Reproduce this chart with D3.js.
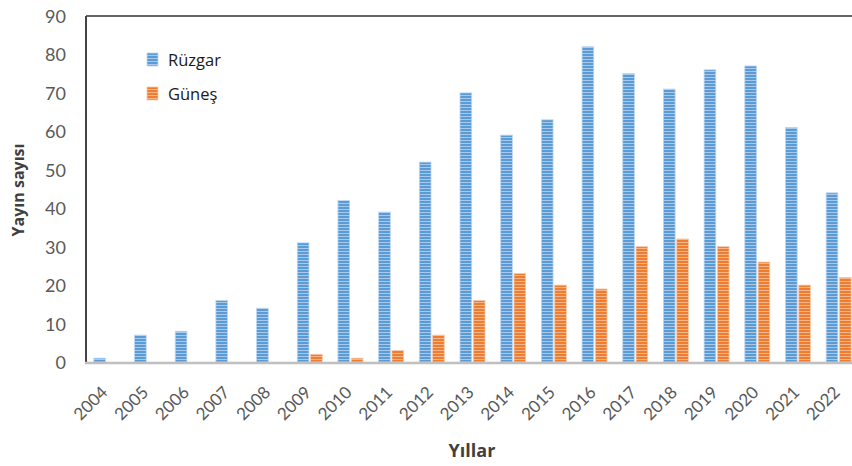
<!DOCTYPE html>
<html>
<head>
<meta charset="utf-8">
<script src="https://cdn.jsdelivr.net/npm/d3@7"></script>
<style>
  html, body { margin: 0; padding: 0; background: #fff; }
  svg { display: block; }
</style>
</head>
<body>
<svg id="chart" width="852" height="466"></svg>
<script>
// Yearly publication counts: wind (Rüzgar) and solar (Güneş)
const years = ["2004","2005","2006","2007","2008","2009","2010","2011","2012","2013",
               "2014","2015","2016","2017","2018","2019","2020","2021","2022"];
const ruzgar = [1, 7, 8, 16, 14, 31, 42, 39, 52, 70, 59, 63, 82, 75, 71, 76, 77, 61, 44];
const gunes  = [0, 0, 0, 0, 0, 2, 1, 3, 7, 16, 23, 20, 19, 30, 32, 30, 26, 20, 22];
const seriesNames = ["Rüzgar", "Güneş"];
const yTicks = [0, 10, 20, 30, 40, 50, 60, 70, 80, 90];

const svg = d3.select("#chart");
const font = "Lato, 'Open Sans', sans-serif";
const textFont = "'Open Sans', Lato, sans-serif";
const margin = { left: 86, top: 16, right: -7, bottom: 104 };
const W = 852, H = 466;
const x0 = margin.left, x1 = W - margin.right;
const yTop = margin.top, yBot = H - margin.bottom;

const x = d3.scaleBand().domain(years).range([x0, x1]).paddingInner(0).paddingOuter(0);
const xs = d3.scaleBand().domain(seriesNames).range([x.bandwidth() / 2 - 12.5, x.bandwidth() / 2 + 12.5]).paddingInner(0.12);
const y = d3.scaleLinear().domain([0, 90]).range([yBot, yTop]);

// Horizontal stripe fills
const defs = svg.append("defs");
function stripes(id, base, light) {
  const p = defs.append("pattern").attr("id", id)
    .attr("patternUnits", "userSpaceOnUse").attr("width", 6).attr("height", 3);
  p.append("rect").attr("width", 6).attr("height", 3).attr("fill", base);
  p.append("rect").attr("y", 2).attr("width", 6).attr("height", 1).attr("fill", light);
}
stripes("stripeBlue", "#5b9bd5", "#a9c9ec");
stripes("stripeOrange", "#ed7d31", "#f6b48a");
const fills = { "Rüzgar": "url(#stripeBlue)", "Güneş": "url(#stripeOrange)" };
const edges = { "Rüzgar": "#bcd6f1", "Güneş": "#f8c9a8" };

const rows = years.map((yr, i) => ({ year: yr, values: [
  { key: "Rüzgar", v: ruzgar[i] }, { key: "Güneş", v: gunes[i] } ] }));

// Bars
const g = svg.append("g");
g.selectAll("g.yr").data(rows).join("g").attr("class", "yr")
  .attr("transform", d => `translate(${x(d.year)},0)`)
  .selectAll("rect").data(d => d.values.filter(e => e.v > 0)).join("rect")
  .attr("x", d => xs(d.key))
  .attr("width", xs.bandwidth())
  .attr("y", d => y(d.v))
  .attr("height", d => yBot - y(d.v))
  .attr("fill", d => fills[d.key])
  .attr("stroke", d => edges[d.key])
  .attr("stroke-width", 0.8);

// Frame lines: top and left dark, baseline gray
svg.append("line").attr("x1", x0).attr("x2", W).attr("y1", yTop).attr("y2", yTop)
  .attr("stroke", "#333").attr("stroke-width", 1.5);
svg.append("line").attr("x1", x0).attr("x2", x0).attr("y1", yTop).attr("y2", yBot + 1)
  .attr("stroke", "#444").attr("stroke-width", 2);
svg.append("line").attr("x1", x0 - 1).attr("x2", W).attr("y1", yBot + 1).attr("y2", yBot + 1)
  .attr("stroke", "#bfbfbf").attr("stroke-width", 2.5);

// Y axis labels
const yAxis = d3.axisLeft(y).tickValues(yTicks).tickSize(0).tickPadding(0).tickFormat(d3.format("d"));
const ya = svg.append("g").attr("transform", `translate(66,0)`).call(yAxis);
ya.select(".domain").remove();
ya.selectAll("text").attr("font-family", font).attr("font-size", 18).attr("fill", "#595959")
  .attr("dy", "0.36em");

// X axis labels, rotated
const xAxis = d3.axisBottom(x).tickSize(0).tickPadding(0);
const xa = svg.append("g").attr("transform", `translate(0,${yBot + 23})`).call(xAxis);
xa.select(".domain").remove();
xa.selectAll("text").attr("font-family", font).attr("font-size", 17).attr("fill", "#595959")
  .attr("text-anchor", "end").attr("dy", "0.7em")
  .attr("transform", "translate(-6,0) rotate(-45)");

// Axis titles
svg.append("text").attr("x", 472).attr("y", 457).attr("text-anchor", "middle")
  .attr("font-family", textFont).attr("font-weight", "bold").attr("font-size", 18).attr("fill", "#404040")
  .text("Yıllar");
svg.append("text").attr("transform", "translate(24,190) rotate(-90)").attr("text-anchor", "middle")
  .attr("font-family", textFont).attr("font-weight", "bold").attr("font-size", 16).attr("fill", "#404040")
  .text("Yayın sayısı");

// Legend
const leg = svg.append("g").attr("transform", "translate(147,53)");
seriesNames.forEach((name, i) => {
  const row = leg.append("g").attr("transform", `translate(0,${i * 34})`);
  row.append("rect").attr("width", 11).attr("height", 13).attr("fill", fills[name])
    .attr("stroke", edges[name]).attr("stroke-width", 0.8);
  row.append("text").attr("x", 21).attr("y", 13).attr("font-family", textFont)
    .attr("font-size", 16.5).attr("fill", "#1a1a1a").text(name);
});
</script>
</body>
</html>
